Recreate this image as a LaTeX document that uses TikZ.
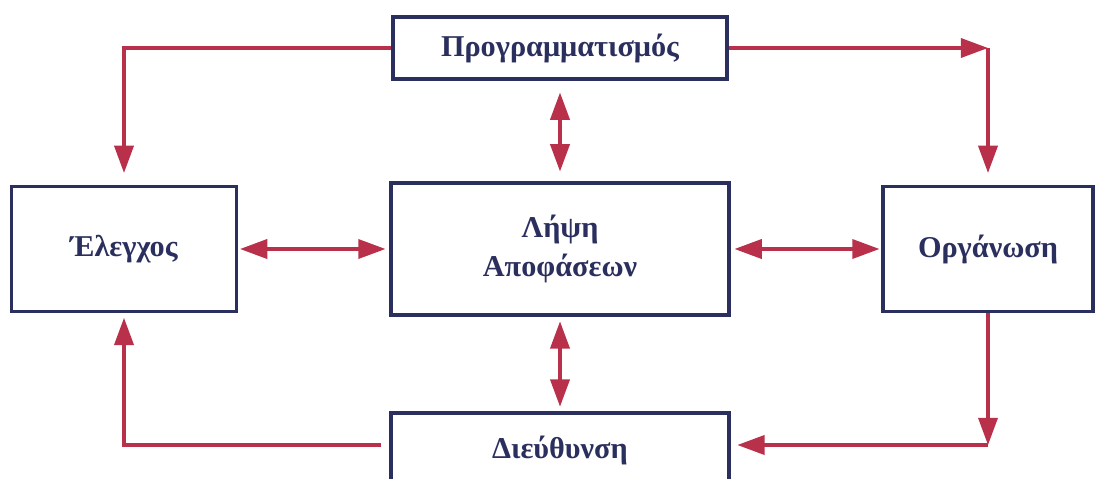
\documentclass[tikz,border=0pt]{standalone}
\usepackage{fontspec}
\setmainfont{Liberation Serif}
\usetikzlibrary{arrows.meta}

\definecolor{boxnavy}{HTML}{2B2F5E}
\definecolor{flowred}{HTML}{B83049}

\begin{document}
\begin{tikzpicture}[x=0.025cm,y=-0.025cm,
    box/.style={draw=boxnavy, line width=2.2pt, text=boxnavy, inner sep=0pt,
        font=\fontsize{21.5}{28}\selectfont\bfseries, align=center},
    flow/.style={draw=flowred, line width=2.2pt, -{Triangle[length=0.68cm,width=0.48cm]}},
    both/.style={draw=flowred, line width=2.2pt, {Triangle[length=0.68cm,width=0.48cm]}-{Triangle[length=0.68cm,width=0.48cm]}}]

    \useasboundingbox (0,0) rectangle (1097,479);

    \node[box, minimum width=334*0.025cm, minimum height=62*0.025cm] (plan) at (560,48) {Προγραμματισμός};
    \node[box, minimum width=225*0.025cm, minimum height=125*0.025cm] (control) at (124,249) {Έλεγχος};
    \node[box, minimum width=338*0.025cm, minimum height=132*0.025cm] (decide) at (560,249) {Λήψη\\Αποφάσεων};
    \node[box, minimum width=210*0.025cm, minimum height=125*0.025cm] (organize) at (988,249) {Οργάνωση};
    \node[box, minimum width=338*0.025cm, minimum height=74*0.025cm] (direct) at (560,450) {Διεύθυνση};

    \coordinate (turnA) at (plan.east -| organize.north);
    \coordinate (turnB) at (988,445);

    \draw[flow, shorten >=0.3cm] (plan.west) -| (control.north);
    \draw[flow] (plan.east) -- (turnA);
    \draw[flow, shorten >=0.3cm] (turnA) -- (organize.north);
    \draw[flow] (organize.south) -- (turnB);
    \draw[flow, shorten >=0.17cm] (turnB) -- (turnB -| direct.east);
    \draw[flow, shorten >=0.12cm] ([xshift=-0.2cm]turnB -| direct.west) -| (control.south);

    \draw[both, shorten <=0.05cm, shorten >=0.1cm] (control.east) -- (decide.west);
    \draw[both, shorten <=0.1cm, shorten >=0.05cm] (decide.east) -- (organize.west);
    \draw[both, shorten <=0.3cm, shorten >=0.25cm] (plan.south) -- (decide.north);
    \draw[both, shorten <=0.12cm, shorten >=0.12cm] (decide.south) -- (direct.north);
    \end{tikzpicture}
\end{document}
